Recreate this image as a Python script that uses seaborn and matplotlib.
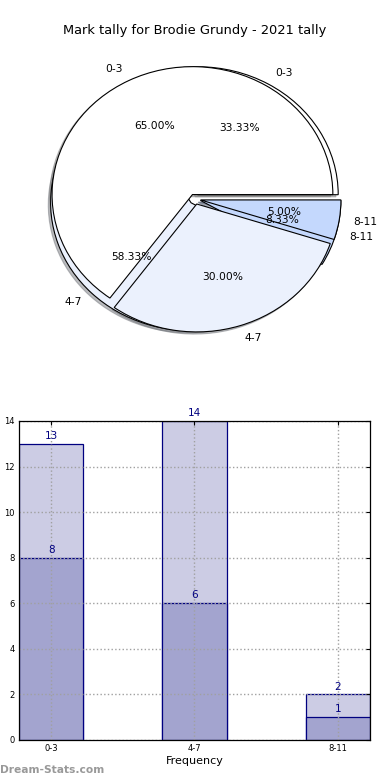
import matplotlib
matplotlib.use("Agg")
import matplotlib.pyplot as plt
import pandas as pd
import seaborn as sns

# chart data
categories = ["0-3", "4-7", "8-11"]
pie_back_values = [8, 14, 2]      # 33.33 / 58.33 / 8.33 %
pie_front_values = [13, 6, 1]     # 65 / 30 / 5 %
bar_light_values = [13, 14, 2]
bar_dark_values = [8, 6, 1]
y_ticks = [0, 2, 4, 6, 8, 10, 12, 14]

title = "Mark tally for Brodie Grundy - 2021 tally"
pie_colors = ["#ffffff", "#ebf1fd", "#c4d8fd"]

sns.set_style("white")
plt.rcParams["font.family"] = ["DejaVu Sans"]
plt.rcParams["text.color"] = "black"

fig = plt.figure(figsize=(3.9, 7.8), dpi=100)

# ---- pie chart (two overlapping pies) ----
ax_pie = fig.add_axes([0.05, 0.5397, 0.9, 0.41])
wedge_kw = dict(edgecolor="black", linewidth=0.8)
for vals in (pie_back_values, pie_front_values):
    ax_pie.pie(vals, labels=categories, colors=pie_colors, autopct="%.2f%%",
               explode=[0.04] * 3, startangle=0,
               shadow=dict(ox=-0.012, oy=-0.012, shade=0.5),
               wedgeprops=wedge_kw, textprops=dict(fontsize=7.7, color="black"))
ax_pie.set_aspect("auto")
ax_pie.set_xlim(-1.25, 1.25)
ax_pie.set_ylim(-1.25, 1.25)
fig.text(0.5, 0.961, title, ha="center", va="center", fontsize=9.4)

# ---- bar chart ----
ax = fig.add_axes([0.0487, 0.0513, 0.9, 0.409])
df = pd.DataFrame({"cat": categories, "light": bar_light_values, "dark": bar_dark_values})
sns.barplot(data=df, x="cat", y="light", color="#cccce4", saturation=1,
            width=0.45, edgecolor="#000080", linewidth=0.9, ax=ax)
sns.barplot(data=df, x="cat", y="dark", color="#a3a4cf", saturation=1,
            width=0.45, edgecolor="#000080", linewidth=0.9, ax=ax)
for cont in ax.containers:
    ax.bar_label(cont, padding=2, color="#000080", fontsize=7.5)

ax.set_xlim(-0.225, 2.225)
ax.set_ylim(0, 14)
ax.set_yticks(y_ticks)
ax.set_axisbelow(False)
ax.grid(True, linestyle=":", color="#a0a0a0", linewidth=1.0)
ax.tick_params(direction="in", length=3, labelsize=6, top=True, right=True,
               colors="black", pad=3)
for s in ax.spines.values():
    s.set_color("black")
    s.set_linewidth(0.9)
    s.set_zorder(5)
ax.set_xlabel("Frequency", fontsize=8, labelpad=2, color="black")
ax.set_ylabel("Distribution", fontsize=8, labelpad=5, color="black")

fig.text(0.0, 0.013, "Dream-Stats.com", ha="left", va="center",
         fontsize=7.7, color="#999999", fontweight="bold")

fig.savefig("out.png", dpi=100)
